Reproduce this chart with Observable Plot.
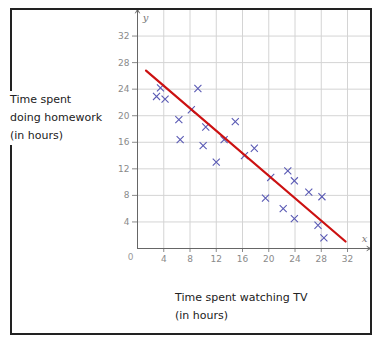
<!DOCTYPE html>
<html>
<head>
<meta charset="utf-8">
<script src="https://cdn.jsdelivr.net/npm/d3@7"></script>
<script src="https://cdn.jsdelivr.net/npm/@observablehq/plot@0.6"></script>
<style>
  body { margin: 0; background: #fff; }
  #wrap { position: relative; width: 380px; height: 343px; overflow: hidden; }
  #wrap svg { position: absolute; left: 0; top: 0; }
  .frame { position: absolute; left: 10px; top: 8px; width: 358px; height: 323px; border: 2px solid #222; pointer-events: none; }
  .ytitle { position: absolute; left: 10px; top: 91px; font: 11px "DejaVu Sans", Verdana, sans-serif; line-height: 18px; color: #222; background: #fff; padding-right: 2px; }
  .xtitle { position: absolute; left: 175px; top: 289px; font: 11px "DejaVu Sans", Verdana, sans-serif; line-height: 17.5px; color: #222; }
</style>
</head>
<body>
<div id="wrap"></div>
<script>
// Data
const tvHours = [3.5, 2.9, 4.2, 9.2, 6.3, 8.2, 10.4, 14.9, 6.5, 10.0, 13.2, 12.0, 17.8, 16.3, 20.3, 22.9, 23.9, 19.5, 22.2, 23.9, 26.1, 28.1, 27.5, 28.4];
const homeworkHours = [24.2, 22.9, 22.5, 24.1, 19.4, 20.9, 18.3, 19.1, 16.4, 15.5, 16.4, 13.0, 15.1, 14.0, 10.7, 11.7, 10.2, 7.6, 6.0, 4.5, 8.5, 7.8, 3.5, 1.6];
const fitX = [1.3, 31.7];
const fitY = [26.8, 1.05];
const xTicks = [4, 8, 12, 16, 20, 24, 28, 32];
const yTicks = [4, 8, 12, 16, 20, 24, 28, 32];
const yGridValues = [4, 8, 12, 16, 20, 24, 28, 32, 36];
const xMax = 35.5;
const yMax = 36;
const yTitleLines = ["Time spent", "doing homework", "(in hours)"];
const xTitleLines = ["Time spent watching TV", "(in hours)"];

const points = tvHours.map((x, i) => ({x, y: homeworkHours[i]}));
const fitLine = fitX.map((x, i) => ({x, y: fitY[i]}));

const chart = Plot.plot({
  width: 380,
  height: 343,
  marginLeft: 137,
  marginRight: 10,
  marginTop: 9,
  marginBottom: 95,
  style: {fontFamily: "'DejaVu Sans', Verdana, sans-serif", fontSize: "9px", background: "transparent"},
  x: {domain: [0, xMax], axis: null},
  y: {domain: [0, yMax], axis: null},
  marks: [
    Plot.ruleX(xTicks, {stroke: "#d4d4d4", strokeWidth: 1}),
    Plot.ruleY(yGridValues, {x1: 0, x2: xMax, stroke: "#d4d4d4", strokeWidth: 1}),
    Plot.axisX(xTicks, {anchor: "bottom", color: "#8a8a8a", tickSize: 4, tickPadding: 3, fontSize: 9}),
    Plot.axisY(yTicks, {anchor: "left", color: "#8a8a8a", tickSize: 5, tickPadding: 3, fontSize: 9}),
    Plot.arrow([{x1: 0, y1: 0, x2: 0, y2: yMax}], {x1: "x1", y1: "y1", x2: "x2", y2: "y2", stroke: "#666", strokeWidth: 1, headLength: 6, clip: false}),
    Plot.arrow([{x1: 0, y1: 0, x2: xMax, y2: 0}], {x1: "x1", y1: "y1", x2: "x2", y2: "y2", stroke: "#666", strokeWidth: 1, headLength: 6, clip: false}),
    Plot.text(["y"], {x: 0, y: yMax, dx: 8, dy: 8, text: d => d, fill: "#777", fontStyle: "italic", fontFamily: "'DejaVu Serif', serif", fontSize: 10}),
    Plot.text(["x"], {x: xMax, y: 0, dx: -6, dy: -10, text: d => d, fill: "#777", fontStyle: "italic", fontFamily: "'DejaVu Serif', serif", fontSize: 10}),
    Plot.text(["0"], {x: 0, y: 0, dx: -7, dy: 9, text: d => d, fill: "#9a9a9a", fontSize: 9}),
    Plot.dot(points, {x: "x", y: "y", symbol: "times", r: 3.3, stroke: "#5a5ab4", strokeWidth: 1.1}),
    Plot.line(fitLine, {x: "x", y: "y", stroke: "#cc1111", strokeWidth: 2.2})
  ]
});

const wrap = document.getElementById("wrap");
wrap.appendChild(chart);
const frame = document.createElement("div");
frame.className = "frame";
wrap.appendChild(frame);
const yt = document.createElement("div");
yt.className = "ytitle";
yt.innerHTML = yTitleLines.join("<br>");
wrap.appendChild(yt);
const xt = document.createElement("div");
xt.className = "xtitle";
xt.innerHTML = xTitleLines.join("<br>");
wrap.appendChild(xt);
</script>
</body>
</html>
